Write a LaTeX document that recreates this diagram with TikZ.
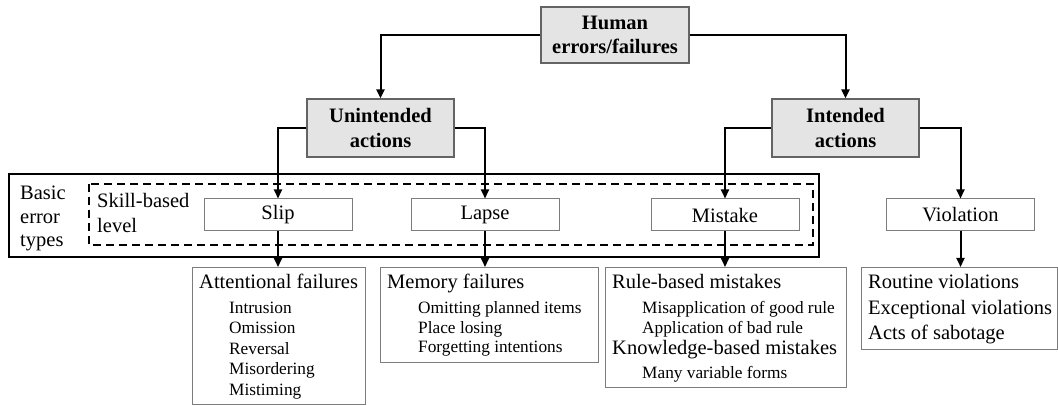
\documentclass[tikz,border=0pt]{standalone}
\usepackage{fontspec}
\setmainfont{Liberation Serif}
\usetikzlibrary{arrows.meta}
\definecolor{boxfill}{RGB}{228,228,228}
\definecolor{boxline}{RGB}{100,100,100}
\definecolor{thinline}{RGB}{125,125,125}
\tikzset{
  conn/.style={line width=2pt, -{Triangle[length=9pt,width=8pt]}},
  graybox/.style={draw=boxline, line width=1.2pt, fill=boxfill, align=center,
    font=\fontsize{20.5}{24.5}\selectfont\bfseries, inner sep=0pt},
  typebox/.style={draw=thinline, line width=1pt, minimum width=148pt, minimum height=32pt,
    inner sep=0pt, font=\fontsize{20.5}{24.5}\selectfont},
  listbox/.style={draw=thinline, line width=1pt, inner sep=0pt},
  head/.style={anchor=base west, inner sep=0pt, font=\fontsize{20.5}{24.5}\selectfont},
  sub/.style={anchor=base west, inner sep=0pt, font=\fontsize{17.3}{20.5}\selectfont},
}
\begin{document}
\begin{tikzpicture}[x=1pt,y=-1pt]
\useasboundingbox (0,0) rectangle (1058,406);

% level boxes
\draw[line width=2.2pt] (9,174) rectangle (819,257);
\draw[line width=2pt, dash pattern=on 8pt off 5pt] (89,184) rectangle (813,245);

% top boxes
\node[graybox, minimum width=148pt, minimum height=56pt] (human) at (615,35) {Human\\errors/failures};
\node[graybox, minimum width=147pt, minimum height=58pt] (unint) at (380.5,128) {Unintended\\actions};
\node[graybox, minimum width=147pt, minimum height=58pt] (intd) at (845.5,128) {Intended\\actions};

% type boxes
\node[typebox] (slip) at (278,215) {Slip};
\node[typebox] (lapse) at (485,215) {Lapse};
\node[typebox] (mistake) at (725,215) {Mistake};
\node[typebox] (violation) at (960.5,215) {Violation};

% side labels
\node[head] (bet1) at (20,200) {Basic};
\node[head] (bet2) at (20,223.5) {error};
\node[head] (bet3) at (20,247) {types};
\node[head] (skl1) at (97,208) {Skill-based};
\node[head] (skl2) at (97,233) {level};

% bottom boxes
\node[listbox, minimum width=173pt, minimum height=137pt, anchor=north west] (att) at (192,267) {};
\node[listbox, minimum width=218pt, minimum height=95pt, anchor=north west] (mem) at (380,267) {};
\node[listbox, minimum width=241pt, minimum height=120pt, anchor=north west] (rule) at (605,267) {};
\node[listbox, minimum width=196pt, minimum height=82pt, anchor=north west] (vlist) at (861,267) {};

% attentional
\node[head] (a0) at (199,289) {Attentional failures};
\node[sub] (a1) at (229,313) {Intrusion};
\node[sub] (a2) at (229,333.5) {Omission};
\node[sub] (a3) at (229,354) {Reversal};
\node[sub] (a4) at (229,374.5) {Misordering};
\node[sub] (a5) at (229,395) {Mistiming};

% memory
\node[head] (m0) at (387,289) {Memory failures};
\node[sub] (m1) at (418,313) {Omitting planned items};
\node[sub] (m2) at (418,333) {Place losing};
\node[sub] (m3) at (418,352.5) {Forgetting intentions};

% rule
\node[head] (r0) at (612,289) {Rule-based mistakes};
\node[sub] (r1) at (642,313) {Misapplication of good rule};
\node[sub] (r2) at (642,333) {Application of bad rule};
\node[head] (r3) at (612,354) {Knowledge-based mistakes};
\node[sub] (r4) at (642,378) {Many variable forms};

% violations
\node[head] (v0) at (868,289) {Routine violations};
\node[head] (v1) at (868,314) {Exceptional violations};
\node[head] (v2) at (868,339) {Acts of sabotage};

% connectors
\draw[conn] (human.west) -| (unint.north);
\draw[conn] (human.east) -| (intd.north);
\draw[conn] (unint.west) -| (slip.north);
\draw[conn] (unint.east) -| (lapse.north);
\draw[conn] (intd.west) -| (mistake.north);
\draw[conn] (intd.east) -| (violation.north);
\draw[conn] (slip.south) -- (slip.south |- att.north);
\draw[conn] (lapse.south) -- (lapse.south |- mem.north);
\draw[conn] (mistake.south) -- (mistake.south |- rule.north);
\draw[conn] (violation.south) -- (violation.south |- vlist.north);
\end{tikzpicture}
\end{document}
